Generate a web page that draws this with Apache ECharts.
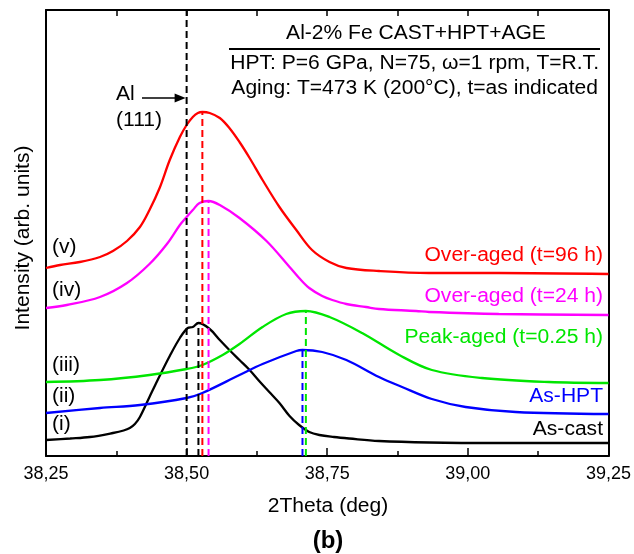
<!DOCTYPE html>
<html>
<head>
<meta charset="utf-8">
<script src="https://cdn.jsdelivr.net/npm/echarts@6/dist/echarts.min.js"></script>
<style>
  html, body { margin: 0; padding: 0; background: #fff; }
  #chart { width: 634px; height: 554px; }
</style>
</head>
<body>
<div id="chart"></div>
<script>
// 2Theta axis ticks (deg)
const thetaTicks = [38.25, 38.50, 38.75, 39.00, 39.25];

// XRD profiles around Al (111): [2Theta, intensity (arb. units)]
const asCast = [
  [38.250, 16], [38.293, 17.5], [38.328, 19], [38.369, 23], [38.388, 25.5], [38.399, 28],
  [38.408, 32], [38.417, 39], [38.434, 59], [38.452, 80], [38.470, 100], [38.488, 118],
  [38.502, 128], [38.511, 129], [38.521, 133], [38.541, 127], [38.559, 116], [38.576, 106],
  [38.594, 96], [38.612, 86], [38.629, 75], [38.647, 64], [38.665, 53], [38.683, 40],
  [38.700, 31], [38.718, 24], [38.736, 21], [38.762, 19], [38.789, 17.5], [38.842, 15],
  [38.931, 13.5], [39.055, 13], [39.250, 13]
];
const asHPT = [
  [38.250, 43], [38.346, 48], [38.417, 51], [38.500, 58], [38.528, 63], [38.594, 81],
  [38.635, 92], [38.695, 105], [38.706, 106], [38.741, 104], [38.784, 96], [38.842, 79],
  [38.883, 69], [38.936, 57], [38.996, 49], [39.085, 44], [39.250, 42]
];
const peakAged = [
  [38.250, 74], [38.346, 76], [38.434, 81], [38.500, 87], [38.528, 91], [38.564, 101],
  [38.594, 112], [38.635, 129], [38.677, 142], [38.712, 145], [38.754, 139], [38.812, 123],
  [38.878, 101], [38.936, 86], [39.025, 78], [39.144, 74], [39.250, 73]
];
const overAged24 = [
  [38.250, 148], [38.287, 151], [38.346, 159], [38.394, 173], [38.434, 192], [38.465, 212],
  [38.488, 231], [38.500, 239], [38.511, 246], [38.523, 253], [38.539, 255], [38.559, 251],
  [38.594, 238], [38.642, 215], [38.683, 189], [38.700, 178], [38.718, 168], [38.741, 160],
  [38.759, 156], [38.784, 152], [38.819, 149], [38.842, 147], [38.908, 145], [38.931, 144],
  [39.055, 142], [39.250, 141]
];
const overAged96 = [
  [38.250, 188], [38.275, 191], [38.310, 194], [38.346, 199], [38.369, 205], [38.394, 215],
  [38.417, 229], [38.434, 246], [38.452, 268], [38.470, 296], [38.488, 319], [38.500, 331],
  [38.511, 339], [38.520, 343], [38.528, 344], [38.541, 343], [38.559, 338], [38.576, 328],
  [38.594, 314], [38.612, 298], [38.635, 276], [38.665, 249], [38.695, 226], [38.723, 206],
  [38.754, 194], [38.784, 188], [38.842, 185], [38.931, 183], [39.055, 183], [39.250, 182]
];

// Peak markers: position (deg) and height of each dashed drop line
const markerTheta = [38.500, 38.521, 38.528, 38.539, 38.706, 38.712];
const markerTop   = [446, 133, 344, 255, 106, 145];
const markerColor = ['#000000', '#000000', '#ff0000', '#ff00ff', '#0000ff', '#00e600'];

const seriesNames  = ['As-cast', 'As-HPT', 'Peak-aged (t=0.25 h)', 'Over-aged (t=24 h)', 'Over-aged (t=96 h)'];
const seriesTags   = ['(i)', '(ii)', '(iii)', '(iv)', '(v)'];
const seriesData   = [asCast, asHPT, peakAged, overAged24, overAged96];
const seriesColor  = ['#000000', '#0000ff', '#00e600', '#ff00ff', '#ff0000'];

const FONT = '"Liberation Sans", Arial, Helvetica, sans-serif';
const X0 = 46, X1 = 610, Y0 = 10, Y1 = 456;

const chart = echarts.init(document.getElementById('chart'), null, { renderer: 'canvas' });

const series = [];
markerTheta.forEach((t, i) => {
  series.push({
    type: 'line', xAxisIndex: 0, yAxisIndex: 0, silent: true, showSymbol: false,
    data: [[t, 0], [t, markerTop[i]]],
    lineStyle: { color: markerColor[i], width: 2, type: [7, 4] },
    z: 3
  });
});
seriesData.forEach((d, i) => {
  series.push({
    name: seriesNames[i], type: 'line', xAxisIndex: 0, yAxisIndex: 0,
    data: d, showSymbol: false, smooth: 0.35, silent: true,
    lineStyle: { color: seriesColor[i], width: 2.3 },
    z: 2
  });
});

chart.setOption({
  animation: false,
  backgroundColor: '#fff',
  grid: { left: X0, right: 634 - X1, top: Y0, bottom: 554 - Y1, containLabel: false },
  xAxis: [{
    type: 'value', position: 'bottom', min: thetaTicks[0], max: thetaTicks[thetaTicks.length - 1], interval: 0.25,
    axisLine: { show: true, onZero: false, lineStyle: { color: '#000', width: 2 } },
    axisTick: { show: true, inside: true, length: 8, lineStyle: { color: '#000', width: 1.5 } },
    minorTick: { show: true, splitNumber: 2, length: 5, lineStyle: { color: '#000', width: 1.5 } },
    splitLine: { show: false },
    axisLabel: {
      color: '#000', fontSize: 18, fontFamily: FONT, margin: 9,
      formatter: v => v.toFixed(2).replace('.', ',')
    }
  }, {
    type: 'value', position: 'top', min: thetaTicks[0], max: thetaTicks[thetaTicks.length - 1], interval: 0.25,
    axisLine: { show: true, onZero: false, lineStyle: { color: '#000', width: 2 } },
    axisTick: { show: true, inside: true, length: 6, lineStyle: { color: '#000', width: 1.5 } },
    minorTick: { show: true, splitNumber: 2, length: 6, lineStyle: { color: '#000', width: 1.5 } },
    splitLine: { show: false },
    axisLabel: { show: false }
  }],
  yAxis: [{
    type: 'value', position: 'left', min: 0, max: 446,
    axisLine: { show: true, onZero: false, lineStyle: { color: '#000', width: 2 } },
    axisTick: { show: false }, axisLabel: { show: false }, splitLine: { show: false }
  }, {
    type: 'value', position: 'right', min: 0, max: 446,
    axisLine: { show: true, onZero: false, lineStyle: { color: '#000', width: 2 } },
    axisTick: { show: false }, axisLabel: { show: false }, splitLine: { show: false }
  }],
  series: series
});

// Annotation text helper (slightly wide face, like the figure's typeface)
function txt(text, x, y, opts) {
  opts = opts || {};
  return {
    type: 'text', x: x, y: y, z: 10,
    scaleX: opts.scaleX || 1.08, rotation: opts.rotation || 0,
    style: {
      text: text, fill: opts.color || '#000',
      fontSize: opts.size || 19.5, fontFamily: FONT, fontWeight: opts.weight || 'normal',
      align: opts.align || 'left', verticalAlign: 'middle'
    }
  };
}

const xAl = chart.convertToPixel({ xAxisIndex: 0 }, markerTheta[0]);
const midX = (X0 + X1) / 2;

const graphics = [
  // header box
  txt('Al-2% Fe CAST+HPT+AGE', 416, 34, { align: 'center' }),
  { type: 'line', z: 10, shape: { x1: 229, y1: 49, x2: 600, y2: 49 }, style: { stroke: '#000', lineWidth: 2 } },
  txt('HPT: P=6 GPa, N=75, \u03c9=1 rpm, T=R.T.', 599, 64, { align: 'right' }),
  txt('Aging: T=473 K (200\u00b0C), t=as indicated', 598, 89, { align: 'right' }),
  // Al (111) reference marker
  txt('Al', 116, 95),
  txt('(111)', 116, 121),
  { type: 'line', z: 10, shape: { x1: 142, y1: 98, x2: xAl - 10, y2: 98 }, style: { stroke: '#000', lineWidth: 1.5 } },
  { type: 'polygon', z: 10, shape: { points: [[xAl - 1, 98], [xAl - 12, 93.5], [xAl - 12, 102.5]] }, style: { fill: '#000' } },
  // axis titles
  txt('Intensity (arb. units)', 24, 238, { align: 'center', rotation: Math.PI / 2 }),
  txt('2Theta (deg)', midX, 507, { align: 'center' }),
  txt('(b)', midX, 541, { align: 'center', weight: 'bold', size: 24, scaleX: 1.0 })
];

// curve labels
const rightLabelY = [430, 397, 338, 297, 256];
const leftLabelY  = [425, 397, 366, 291, 248];
seriesNames.forEach((n, i) => {
  graphics.push(txt(n, 603, rightLabelY[i], { align: 'right', color: seriesColor[i] }));
  graphics.push(txt(seriesTags[i], 52, leftLabelY[i]));
});

chart.setOption({ graphic: graphics });
</script>
</body>
</html>
